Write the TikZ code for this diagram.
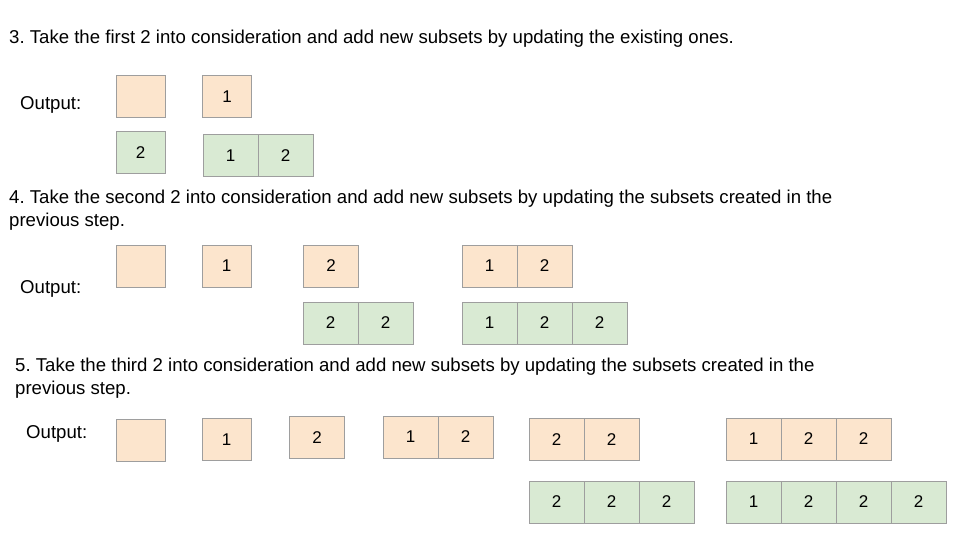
\documentclass[tikz,border=0pt]{standalone}
\usepackage{fontspec}
\setmainfont{Liberation Sans}
\usetikzlibrary{positioning}
\definecolor{oldfill}{HTML}{FCE5CD}
\definecolor{newfill}{HTML}{D9EAD3}
\definecolor{cellline}{HTML}{9E9E9E}
\frenchspacing

\begin{document}
\begin{tikzpicture}[x=1pt,y=-1pt]
      \tikzstyle{every node}=[node distance=55]
      \tikzstyle{txt}=[anchor=base west,inner sep=0,align=left,font=\fontsize{18.6}{23}\selectfont]
      \tikzstyle{cell}=[draw=cellline,line width=1,minimum width=55,minimum height=42,inner sep=0,font=\fontsize{17}{20}\selectfont]
      \tikzstyle{oldcell}=[cell,fill=oldfill]
      \tikzstyle{newcell}=[cell,fill=newfill]
      \tikzstyle{narrow}=[minimum width=49]
      \useasboundingbox (0,0) rectangle (960,540);
      % step 3
      \node [txt] (t3) at (9,44) {3. Take the first 2 into consideration and add new subsets by updating the existing ones.};
      \node [txt] (o3) at (20,110) {Output:};
      \node [oldcell,narrow] (e3) at (140.5,96.5) {};
      \node [oldcell,narrow] (a3) at (227,96.5)   {1};
      \node [newcell,narrow] (b3) at (140.5,153)  {2};
      \node [newcell] (c3a) at (230.5,156)        {1};
      \node [newcell] (c3b) [right of=c3a]        {2};
      % step 4 (base = last line)
      \node [txt] (t4) at (9,226) {4. Take the second 2 into consideration and add new subsets by updating the subsets created in the\\previous step.};
      \node [txt] (o4) at (20,293) {Output:};
      \node [oldcell,narrow] (e4) at (140.5,266)  {};
      \node [oldcell,narrow] (a4) at (226.5,266)  {1};
      \node [oldcell] (b4) at (331,266)           {2};
      \node [oldcell] (c4a) at (489.5,266)        {1};
      \node [oldcell] (c4b) [right of=c4a]        {2};
      \node [newcell] (d4a) at (330.5,323)        {2};
      \node [newcell] (d4b) [right of=d4a]        {2};
      \node [newcell] (f4a) at (489.5,323)        {1};
      \node [newcell] (f4b) [right of=f4a]        {2};
      \node [newcell] (f4c) [right of=f4b]        {2};
      % step 5
      \node [txt] (t5) at (15,394) {5. Take the third 2 into consideration and add new subsets by updating the subsets created in the\\previous step.};
      \node [txt] (o5) at (26,438) {Output:};
      \node [oldcell,narrow] (e5) at (140.5,440)  {};
      \node [oldcell,narrow] (a5) at (226.5,439.5) {1};
      \node [oldcell] (b5) at (317,437.5)         {2};
      \node [oldcell] (c5a) at (410.5,437)        {1};
      \node [oldcell] (c5b) [right of=c5a]        {2};
      \node [oldcell] (d5a) at (556.5,439.5)      {2};
      \node [oldcell] (d5b) [right of=d5a]        {2};
      \node [oldcell] (f5a) at (753.5,439)        {1};
      \node [oldcell] (f5b) [right of=f5a]        {2};
      \node [oldcell] (f5c) [right of=f5b]        {2};
      \node [newcell] (g5a) at (556.5,502)        {2};
      \node [newcell] (g5b) [right of=g5a]        {2};
      \node [newcell] (g5c) [right of=g5b]        {2};
      \node [newcell] (h5a) at (753.5,502)        {1};
      \node [newcell] (h5b) [right of=h5a]        {2};
      \node [newcell] (h5c) [right of=h5b]        {2};
      \node [newcell] (h5d) [right of=h5c]        {2};
\end{tikzpicture}
\end{document}
